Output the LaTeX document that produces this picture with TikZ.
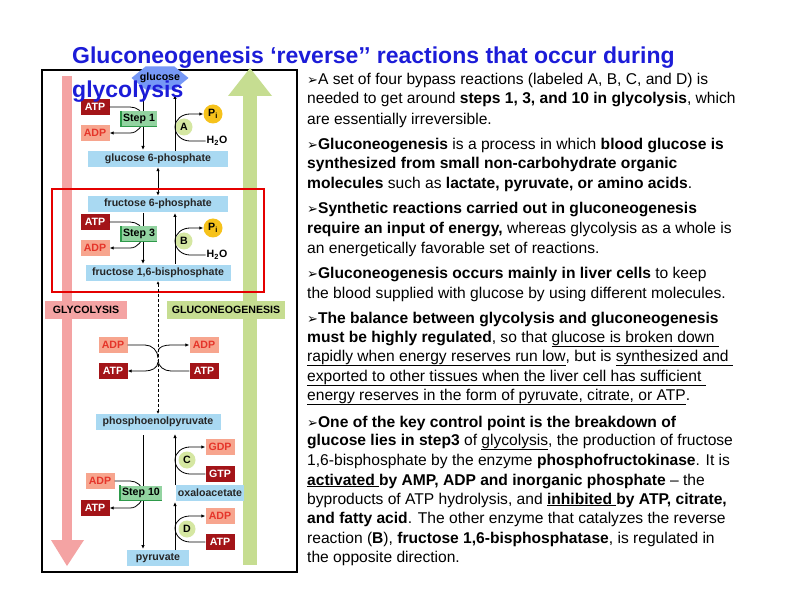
\documentclass[tikz,border=0pt]{standalone}
\usepackage{fontspec}
\setmainfont{Liberation Sans}
\newfontfamily\djv{DejaVu Sans}
\newcommand{\bul}{{\djv\fontsize{13}{13}\selectfont ➢}}
\usetikzlibrary{arrows.meta,shapes.geometric}
\definecolor{pinkar}{HTML}{F4A3A3}
\definecolor{greenar}{HTML}{C6DD91}
\definecolor{bluebox}{HTML}{A9D9F2}
\definecolor{darkred}{HTML}{A31418}
\definecolor{lightred}{HTML}{F7A58E}
\definecolor{redtxt}{HTML}{E5352A}
\definecolor{stepgreen}{HTML}{92D3A0}
\definecolor{stepdark}{HTML}{2E9A4A}
\definecolor{circgreen}{HTML}{D5E7A2}
\definecolor{piyellow}{HTML}{F6C21B}
\definecolor{titleblue}{HTML}{1C1CD8}
\tikzset{
 dfont/.style={font=\fontsize{10.6}{11}\selectfont\bfseries},
 mol/.style={dfont,fill=bluebox,text=black!85,inner sep=2pt,minimum height=16pt},
 atp/.style={dfont,fill=darkred,text=white,minimum width=29pt,minimum height=16pt,inner sep=1pt},
 adp/.style={dfont,fill=lightred,text=redtxt,minimum width=29pt,minimum height=16pt,inner sep=1pt},
 stepbox/.style={dfont,fill=stepgreen,inner sep=2pt,minimum height=15pt},
 enz/.style={dfont,circle,fill=circgreen,inner sep=0pt,minimum size=17pt},
 pinode/.style={dfont,circle,fill=piyellow,inner sep=0pt,minimum size=19pt},
 h2o/.style={dfont,inner sep=1pt},
 lbl/.style={dfont,inner sep=2pt,minimum height=18pt},
 arr/.style={-{Latex[length=4pt,width=3.5pt]},line width=0.8pt},
 ln/.style={line width=0.8pt},
 txt/.style={anchor=west,inner sep=0pt,font=\fontsize{15.6}{17}\selectfont},
 ttl/.style={anchor=west,inner sep=0pt,text=titleblue,font=\fontsize{23}{25}\selectfont\bfseries}
}
\begin{document}
\begin{tikzpicture}[x=1pt,y=-1pt]
\useasboundingbox (0,0) rectangle (792,612);
\fill[white] (0,0) rectangle (792,612);
% frame
\draw[line width=1.2pt] (42,70) rectangle (297,572);
% big arrows
\fill[pinkar] (62,76) rectangle (72,540);
\fill[pinkar] (51,540) -- (67,566) -- (84,540) -- cycle;
\fill[greenar] (243,96) rectangle (257,565);
\fill[greenar] (228,96) -- (250,68) -- (272,96) -- cycle;
\node[lbl,fill=pinkar,minimum width=82pt] (glyco) at (86,310) {GLYCOLYSIS};
\node[lbl,fill=greenar,minimum width=118pt] (gluconeo) at (226,310) {GLUCONEOGENESIS};
% glucose
\node[regular polygon,regular polygon sides=6,fill=bluebox!70!blue,minimum size=30pt,inner sep=0pt,xscale=1.9,yscale=0.9] (glc) at (160,78) {};
\node[dfont] (glctxt) at (160,78) {glucose};
% Step 1
\node[mol,minimum width=140pt] (g6p) at (158,159) {glucose 6-phosphate};
\node[atp] (atp1) at (95,107) {ATP};
\node[adp] (adp1) at (95,133) {ADP};
\draw[arr] (143,94) -- (143,150);
\draw[ln] (atp1.east) -- (130,107) to[out=0,in=90] (143,118);
\draw[arr] (143,118) to[out=-90,in=0] (130,133) -- (adp1.east);
\node[stepbox] (st1) at (139,119) {Step 1};
\draw[stepdark,line width=1.5pt] (st1.north west) -- (st1.south west) -- (st1.south east);
\node[enz] (encA) at (184,127) {A};
\node[pinode] (pi1) at (213,114) {P\textsubscript{i}};
\node[h2o] (h2o1) at (217,141) {H\textsubscript{2}O};
\draw[arr] (175,151) -- (175,95);
\draw[ln] (h2o1.west) -- (190,141) to[out=180,in=-90] (175,127);
\draw[arr] (175,127) to[out=90,in=180] (190,114) -- (pi1.west);
% Step 3
\node[mol,minimum width=140pt] (f6p) at (158,204) {fructose 6-phosphate};
\draw[arr,{Latex[length=4pt,width=3.5pt]}-{Latex[length=4pt,width=3.5pt]}] (g6p) -- (f6p);
\node[mol,minimum width=145pt] (f16bp) at (158,273) {fructose 1,6-bisphosphate};
\node[atp] (atp3) at (95,222) {ATP};
\node[adp] (adp3) at (95,248) {ADP};
\draw[arr] (143,213) -- (143,264);
\draw[ln] (atp3.east) -- (130,222) to[out=0,in=90] (143,233);
\draw[arr] (143,233) to[out=-90,in=0] (130,248) -- (adp3.east);
\node[stepbox] (st3) at (139,234) {Step 3};
\draw[stepdark,line width=1.5pt] (st3.north west) -- (st3.south west) -- (st3.south east);
\node[enz] (encB) at (184,241) {B};
\node[pinode] (pi3) at (213,228) {P\textsubscript{i}};
\node[h2o] (h2o3) at (217,255) {H\textsubscript{2}O};
\draw[arr] (175,264) -- (175,213);
\draw[ln] (h2o3.west) -- (190,255) to[out=180,in=-90] (175,241);
\draw[arr] (175,241) to[out=90,in=180] (190,228) -- (pi3.west);
\draw[red!90!black,line width=2pt] (52,189) rectangle (264,292);
% middle steps
\node[mol,minimum width=125pt] (pep) at (158,422) {phosphoenolpyruvate};
\node[adp] (adpl) at (113,345) {ADP};
\node[atp] (atpl) at (113,371) {ATP};
\node[adp] (adpr) at (204,345) {ADP};
\node[atp] (atpr) at (204,371) {ATP};
\draw[ln,densely dashed,{Latex[length=3pt,width=3pt]}-{Latex[length=3pt,width=3pt]}] (f16bp) -- (pep);
\draw[ln] (adpl.east) -- (145,345) to[out=0,in=90] (158,358);
\draw[arr] (158,352) to[out=90,in=180] (171,345) -- (adpr.west);
\draw[ln] (atpr.west) -- (171,371) to[out=180,in=-90] (158,360);
\draw[arr] (158,362) to[out=-90,in=0] (145,371) -- (atpl.east);
% Step 10
\node[mol,minimum width=62pt] (pyr) at (158,558) {pyruvate};
\node[mol,minimum width=66pt] (oxa) at (210,493) {oxaloacetate};
\node[adp] (adp10) at (100,481) {ADP};
\node[atp] (atp10) at (95,508) {ATP};
\draw[arr] (143,435) -- (143,549);
\draw[ln] (adp10.east) -- (130,481) to[out=0,in=90] (143,493);
\draw[arr] (143,493) to[out=-90,in=0] (130,508) -- (atp10.east);
\node[stepbox] (st10) at (141,493) {Step 10};
\draw[stepdark,line width=1.5pt] (st10.north west) -- (st10.south west) -- (st10.south east);
\node[adp] (gdp) at (220,447) {GDP};
\node[atp] (gtp) at (220,474) {GTP};
\node[enz] (encC) at (187,460) {C};
\draw[arr] (175,485) -- (175,434);
\draw[ln] (gtp.west) -- (190,474) to[out=180,in=-90] (175,460);
\draw[arr] (175,460) to[out=90,in=180] (190,447) -- (gdp.west);
\node[adp] (adpD) at (220,516) {ADP};
\node[atp] (atpD) at (220,542) {ATP};
\node[enz] (encD) at (187,529) {D};
\draw[arr] (175,550) -- (175,502);
\draw[ln] (atpD.west) -- (190,542) to[out=180,in=-90] (175,528);
\draw[arr] (175,528) to[out=90,in=180] (190,516) -- (adpD.west);
% title
\node[ttl] (t1) at (72,58) {Gluconeogenesis ‘reverse’’ reactions that occur during};
\node[ttl] (t2) at (72,92) {glycolysis};
% text
\node[txt] (l1) at (307,80) {\bul A set of four bypass reactions (labeled A, B, C, and D) is};
\node[txt] (l2) at (307,100) {needed to get around \textbf{steps 1, 3, and 10 in glycolysis}, which};
\node[txt] (l3) at (307,120) {are essentially irreversible.};
\node[txt] (l4) at (307,146) {\bul\textbf{Gluconeogenesis} is a process in which \textbf{blood glucose is}};
\node[txt] (l5) at (307,165) {\textbf{synthesized from small non-carbohydrate organic}};
\node[txt] (l6) at (307,184) {\textbf{molecules} such as \textbf{lactate, pyruvate, or amino acids}.};
\node[txt] (l7) at (307,210) {\bul\textbf{Synthetic reactions carried out in gluconeogenesis}};
\node[txt] (l8) at (307,230) {\textbf{require an input of energy,} whereas glycolysis as a whole is};
\node[txt] (l9) at (307,249) {an energetically favorable set of reactions.};
\node[txt] (l10) at (307,275) {\bul\textbf{Gluconeogenesis occurs mainly in liver cells} to keep};
\node[txt] (l11) at (307,294) {the blood supplied with glucose by using different molecules.};
\node[txt] (l12) at (307,320) {\bul\textbf{The balance between glycolysis and gluconeogenesis}};
\node[txt] (l13) at (307,339) {\textbf{must be highly regulated}, so that \underline{glucose is broken down\ }};
\node[txt] (l14) at (307,358) {\underline{rapidly when energy reserves run low}, but is \underline{synthesized and\ }};
\node[txt] (l15) at (307,378) {\underline{exported to other tissues when the liver cell has sufficient\ }};
\node[txt] (l16) at (307,397) {\underline{energy reserves in the form of pyruvate, citrate, or ATP}.};
\node[txt] (l17) at (307,423) {\bul\textbf{One of the key control point is the breakdown of}};
\node[txt] (l18) at (307,442) {\textbf{glucose lies in step3} of \underline{glycolysis}, the production of fructose};
\node[txt] (l19) at (307,461) {1,6-bisphosphate by the enzyme \textbf{phosphofructokinase}. It is};
\node[txt] (l20) at (307,481) {\textbf{\underline{activated\ }by AMP, ADP and inorganic phosphate} – the};
\node[txt] (l21) at (307,500) {byproducts of ATP hydrolysis, and \textbf{\underline{inhibited\ }by ATP, citrate,}};
\node[txt] (l22) at (307,519) {\textbf{and fatty acid}. The other enzyme that catalyzes the reverse};
\node[txt] (l23) at (307,539) {reaction (\textbf{B}), \textbf{fructose 1,6-bisphosphatase}, is regulated in};
\node[txt] (l24) at (307,558) {the opposite direction.};
\end{tikzpicture}
\end{document}
